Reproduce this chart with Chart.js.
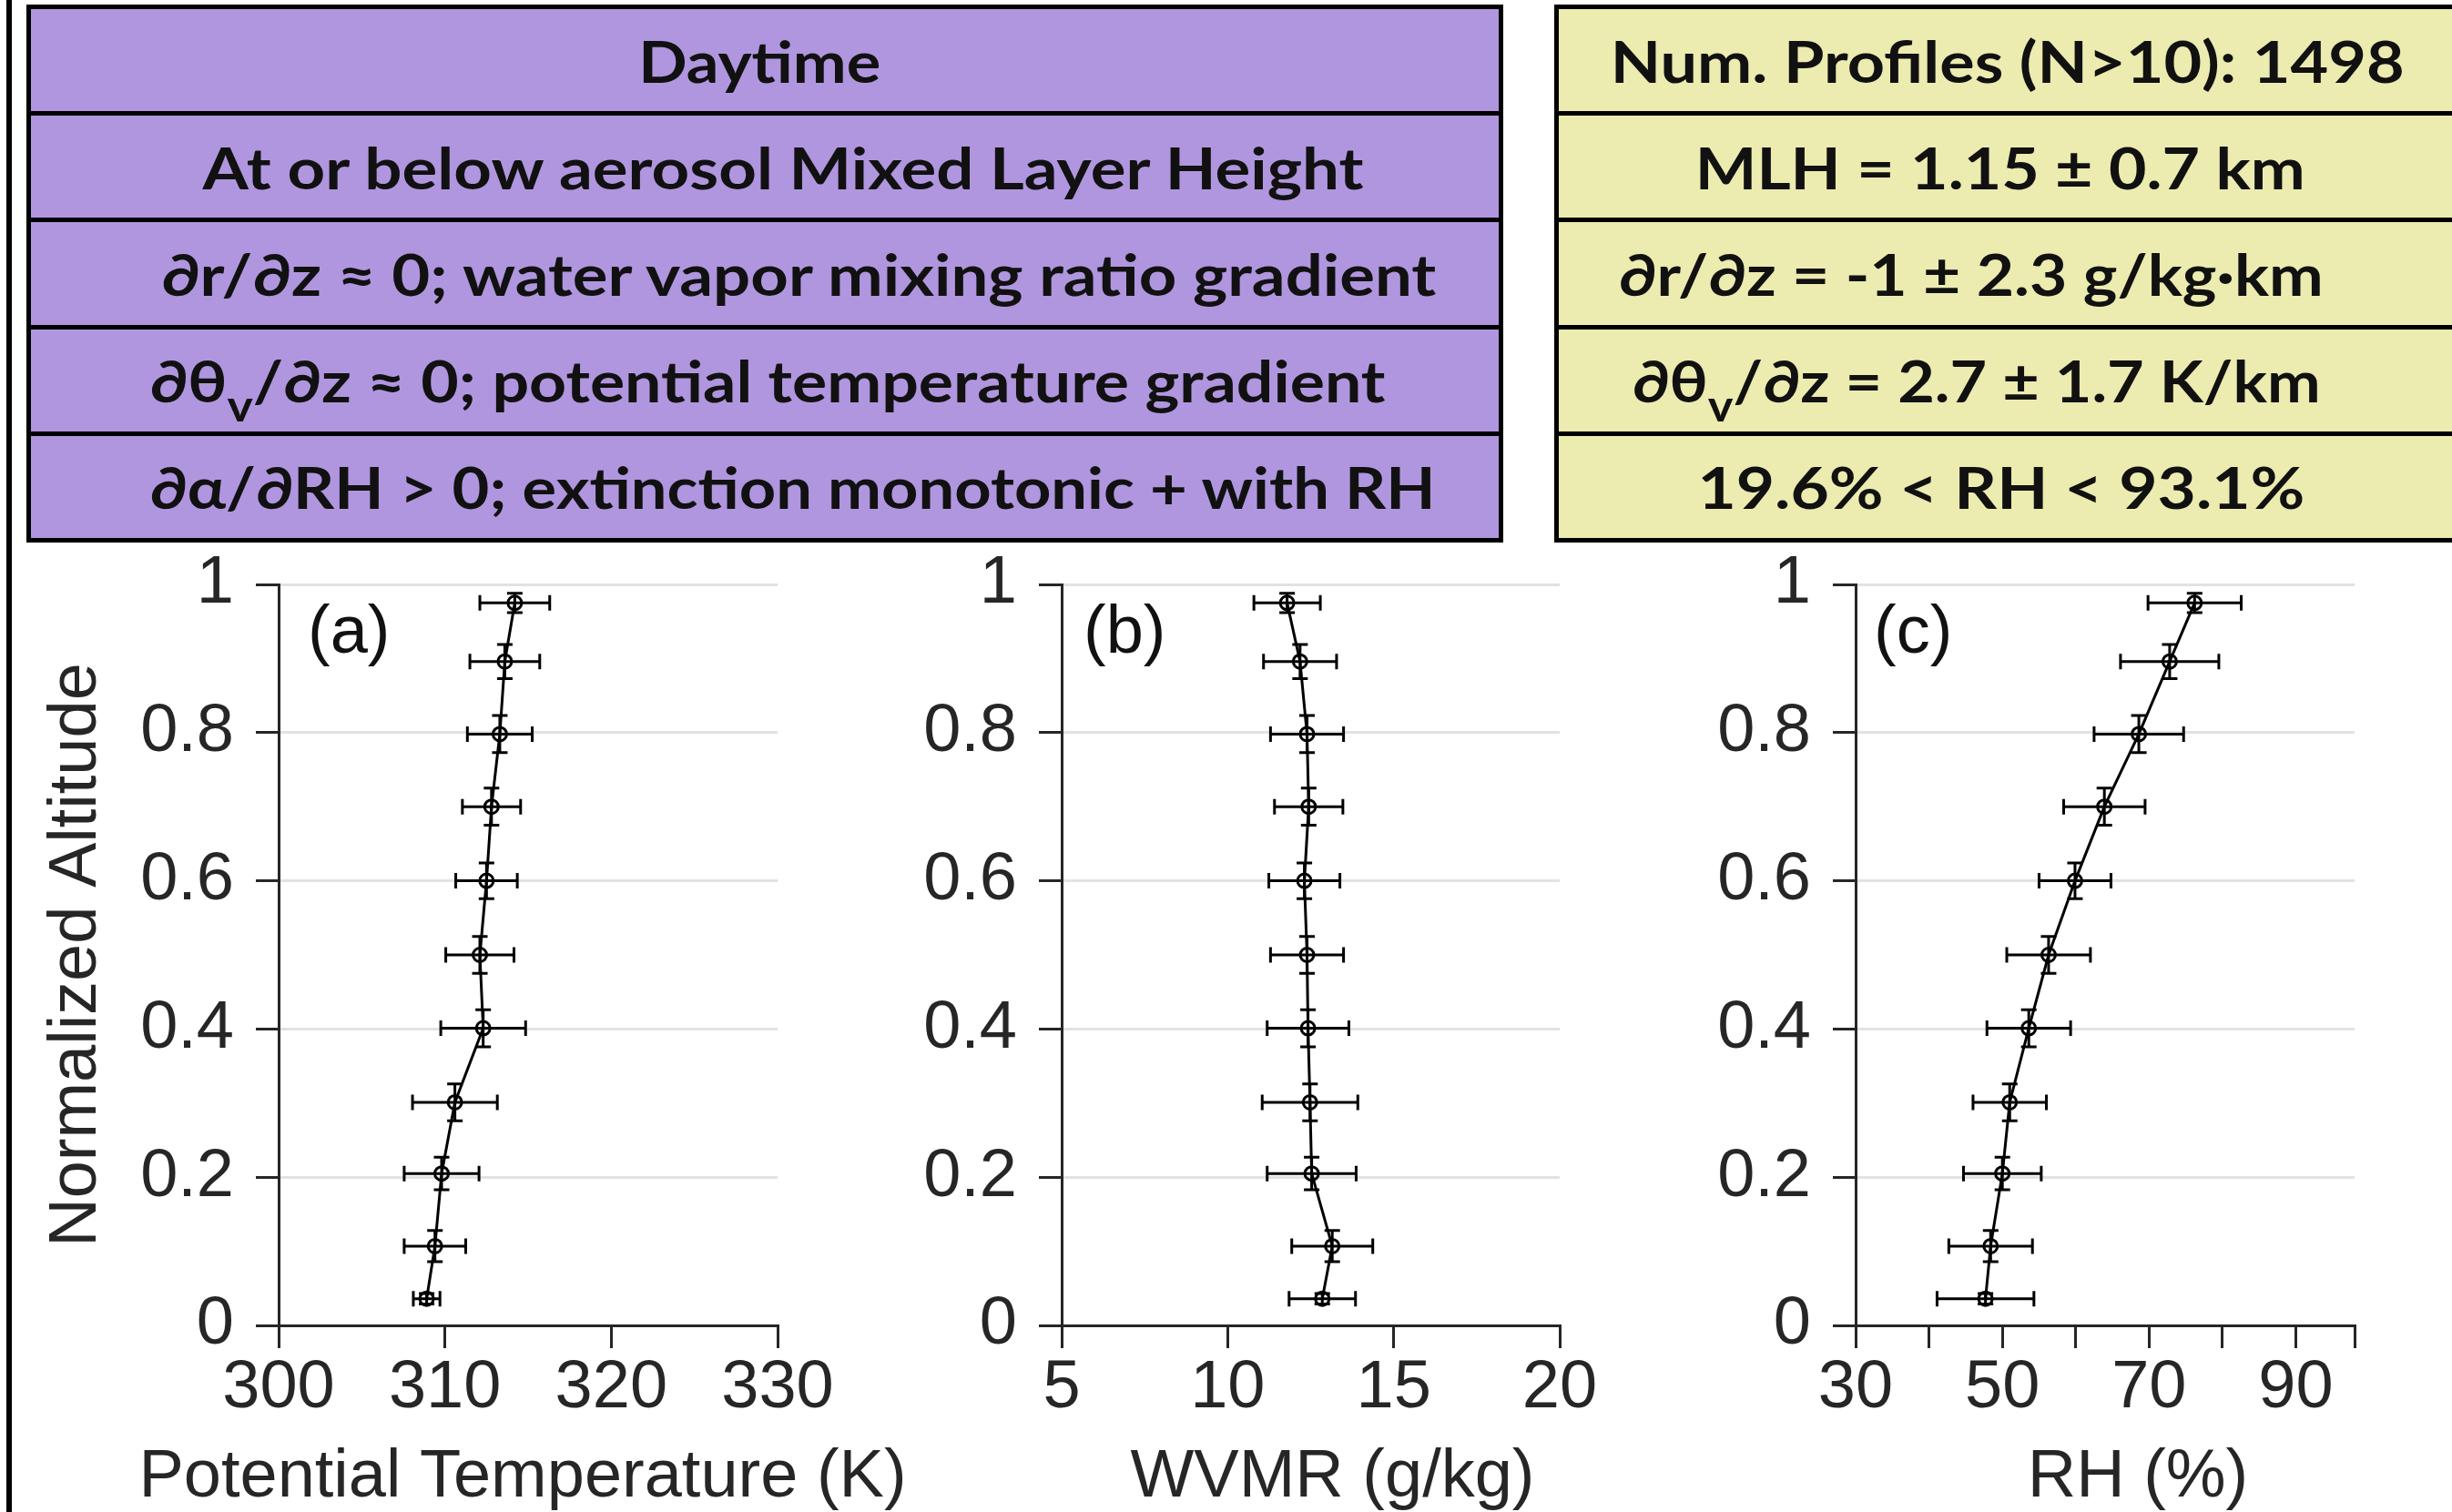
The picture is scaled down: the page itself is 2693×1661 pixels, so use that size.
<!DOCTYPE html>
<html>
<head>
<meta charset="utf-8">
<script src="https://cdn.jsdelivr.net/npm/chart.js@4.4.1/dist/chart.umd.min.js"></script>
<style>
  body { margin: 0; background: #fff; }
  #page { position: relative; width: 2693px; height: 1661px; overflow: hidden; background: #fff; }
  canvas { position: absolute; }
  .edge { position: absolute; left: 7px; top: 0; width: 6px; height: 1661px; background: #000; }
  .tbl { position: absolute; top: 5px; height: 591px; background: #000; box-sizing: border-box;
         padding: 5px; display: flex; flex-direction: column; gap: 5px; }
  .row { flex: 1; }
  .txt { position: absolute; white-space: nowrap; font-family: Lato, "Noto Sans", sans-serif;
         font-weight: 700; font-size: 63px; line-height: 1; color: #111; transform-origin: 50% 50%; }
  .txt sub { font-size: 0.75em; vertical-align: -0.45em; line-height: 0; }
</style>
</head>
<body>
<div id="page">
  <canvas id="chartA"></canvas>
  <canvas id="chartB"></canvas>
  <canvas id="chartC"></canvas>
  <div class="edge"></div>
  <div class="tbl" id="purple" style="left:29px;width:1622px;"></div>
  <div class="tbl" id="yellow" style="left:1707px;width:1100px;padding-right:0;"></div>
</div>
<script>
// table texts
const conditionRows = [
  "Daytime",
  "At or below aerosol Mixed Layer Height",
  "∂r/∂z ≈ 0; water vapor mixing ratio gradient",
  "∂θ<sub>v</sub>/∂z ≈ 0; potential temperature gradient",
  "∂α/∂RH &gt; 0; extinction monotonic + with RH"
];
const statsRows = [
  "Num. Profiles (N&gt;10): 1498",
  "MLH = 1.15 ± 0.7 km",
  "∂r/∂z = -1 ± 2.3 g/kg·km",
  "∂θ<sub>v</sub>/∂z = 2.7 ± 1.7 K/km",
  "19.6% &lt; RH &lt; 93.1%"
];

// profiles (normalized altitude bins)
const altitude = [0.975, 0.896, 0.798, 0.700, 0.600, 0.500, 0.401, 0.301, 0.205, 0.107, 0.036];
const altitudeErr = [0.013, 0.023, 0.025, 0.025, 0.024, 0.025, 0.025, 0.025, 0.022, 0.021, 0.007];

const theta = [314.2, 313.6, 313.3, 312.8, 312.5, 312.1, 312.3, 310.6, 309.8, 309.4, 308.9];
const thetaErr = [2.1, 2.1, 1.95, 1.75, 1.85, 2.05, 2.55, 2.55, 2.25, 1.85, 0.8];

const wvmr = [11.79, 12.18, 12.39, 12.44, 12.31, 12.39, 12.42, 12.48, 12.53, 13.15, 12.85];
const wvmrErr = [1.0, 1.1, 1.1, 1.03, 1.07, 1.1, 1.23, 1.44, 1.34, 1.22, 1.0];

const rh = [76.2, 72.8, 68.6, 63.9, 59.9, 56.3, 53.6, 51.0, 50.0, 48.4, 47.7];
const rhErr = [6.35, 6.7, 6.1, 5.55, 4.9, 5.7, 5.7, 5.0, 5.3, 5.7, 6.6];

// tick labels
const altTicks = [0, 0.2, 0.4, 0.6, 0.8, 1];
const thetaTicks = [300, 310, 320, 330];
const wvmrTicks = [5, 10, 15, 20];
const rhTicks = [30, 40, 50, 60, 70, 80, 90, 98];
const rhTickLabels = [30, 50, 70, 90];

// ---------- tables ----------
function buildTable(id, rows, color, centers, widths) {
  const tbl = document.getElementById(id);
  const page = document.getElementById("page");
  const items = [];
  rows.forEach((html, i) => {
    const r = document.createElement("div");
    r.className = "row";
    r.style.background = color;
    tbl.appendChild(r);
    const t = document.createElement("span");
    t.className = "txt";
    t.innerHTML = html;
    page.appendChild(t);
    items.push({ t, cx: centers[i], w: widths[i], cy: 10 + 117.2 * i + 56.1 });
  });
  return items;
}

const purpleItems = buildTable("purple", conditionRows, "#b096df",
  [834, 860, 877, 843, 871], [266, 1275, 1400, 1357, 1412]);
const yellowItems = buildTable("yellow", statsRows, "#ecebb0",
  [2205, 2197, 2165, 2171, 2198], [872, 670, 774, 756, 667]);

function fitTexts() {
  purpleItems.concat(yellowItems).forEach((it) => {
    it.t.style.transform = "none";
    const w = it.t.getBoundingClientRect().width;
    const h = it.t.getBoundingClientRect().height;
    const s = it.w / w;
    it.t.style.left = (it.cx - w / 2) + "px";
    it.t.style.top = (it.cy - h / 2) + "px";
    it.t.style.transform = "scaleX(" + s + ")";
  });
}

// ---------- charts ----------
const axisFont = { family: "'Liberation Sans', Arial, sans-serif", size: 74 };
const inkColor = "#262626";

const errorBars = {
  id: "errorBars",
  afterDatasetsDraw(chart) {
    const { ctx } = chart;
    const x = chart.scales.x, y = chart.scales.y;
    const cap = 8.5;
    ctx.save();
    ctx.strokeStyle = "#000";
    ctx.lineWidth = 3;
    chart.data.datasets[0].data.forEach((p) => {
      const px = x.getPixelForValue(p.x), py = y.getPixelForValue(p.y);
      const x0 = x.getPixelForValue(p.x - p.xErr), x1 = x.getPixelForValue(p.x + p.xErr);
      const y0 = y.getPixelForValue(p.y - p.yErr), y1 = y.getPixelForValue(p.y + p.yErr);
      ctx.beginPath();
      ctx.moveTo(x0, py); ctx.lineTo(x1, py);
      ctx.moveTo(x0, py - cap); ctx.lineTo(x0, py + cap);
      ctx.moveTo(x1, py - cap); ctx.lineTo(x1, py + cap);
      ctx.moveTo(px, y0); ctx.lineTo(px, y1);
      ctx.moveTo(px - cap, y0); ctx.lineTo(px + cap, y0);
      ctx.moveTo(px - cap, y1); ctx.lineTo(px + cap, y1);
      ctx.stroke();
    });
    ctx.restore();
  }
};

// panel letter and x axis title (title drawn here so it is not squeezed to the axis width)
const panelText = {
  id: "panelText",
  afterDraw(chart, args, opts) {
    const { ctx, chartArea } = chart;
    ctx.save();
    ctx.font = "74px 'Liberation Sans', Arial, sans-serif";
    ctx.textBaseline = "middle";
    ctx.fillStyle = "#111";
    ctx.textAlign = "left";
    ctx.fillText(opts.label, chartArea.left + opts.labelDx, chartArea.top + 55);
    ctx.fillStyle = inkColor;
    ctx.textAlign = "center";
    ctx.textBaseline = "alphabetic";
    ctx.fillText(opts.xTitle, (chartArea.left + chartArea.right) / 2 + opts.titleDx, chartArea.bottom + 188);
    ctx.restore();
  }
};

function makePanel(canvasId, box, values, errs, xTicks, xLabels, xTitle, label, labelDx, titleDx, showYTitle) {
  const canvas = document.getElementById(canvasId);
  canvas.width = box.w;
  canvas.height = box.h;
  canvas.style.left = box.left + "px";
  canvas.style.top = box.top + "px";

  const points = values.map((v, i) => ({ x: v, y: altitude[i], xErr: errs[i], yErr: altitudeErr[i] }));

  new Chart(canvas, {
    type: "scatter",
    data: {
      datasets: [{
        data: points,
        showLine: true,
        borderColor: "#000",
        borderWidth: 3,
        pointRadius: 7.5,
        pointBorderWidth: 3,
        pointBorderColor: "#000",
        pointBackgroundColor: "rgba(0,0,0,0)",
        tension: 0
      }]
    },
    options: {
      responsive: false,
      animation: false,
      devicePixelRatio: 1,
      layout: { padding: { top: 82, right: box.padRight, bottom: 0, left: 0 } },
      plugins: {
        legend: { display: false },
        tooltip: { enabled: false },
        panelText: { label: label, labelDx: labelDx, xTitle: xTitle, titleDx: titleDx }
      },
      scales: {
        x: {
          type: "linear",
          min: xTicks[0],
          max: xTicks[xTicks.length - 1],
          afterBuildTicks: (s) => { s.ticks = xTicks.map((v) => ({ value: v })); },
          afterFit: (s) => { s.height = 205; },
          ticks: {
            font: axisFont,
            color: inkColor,
            padding: 0,
            maxRotation: 0,
            autoSkip: false,
            callback: (v) => (xLabels.includes(v) ? String(v) : "")
          },
          grid: { drawOnChartArea: false, drawTicks: true, tickLength: 25, color: inkColor, lineWidth: 3 },
          border: { color: inkColor, width: 3 },
          title: { display: false, text: xTitle }
        },
        y: {
          type: "linear",
          min: 0,
          max: 1,
          afterBuildTicks: (s) => { s.ticks = altTicks.map((v) => ({ value: v })); },
          afterFit: (s) => { s.width = 306; },
          ticks: {
            font: axisFont,
            color: inkColor,
            padding: 24,
            autoSkip: false,
            callback: (v) => (v === 0 || v === 1 ? String(v) : v.toFixed(1))
          },
          grid: {
            drawTicks: true,
            tickLength: 25,
            lineWidth: 3,
            color: (c) => (c.tick && c.tick.value === 0 ? "rgba(0,0,0,0)" : "#e2e2e2"),
            tickColor: inkColor,
            tickWidth: 3
          },
          border: { color: inkColor, width: 3 },
          title: { display: showYTitle, text: "Normalized Altitude", font: axisFont, color: inkColor, padding: { top: 40, bottom: 0 } }
        }
      }
    },
    plugins: [errorBars, panelText]
  });
}

makePanel("chartA", { left: 0, top: 560, w: 1040, h: 1101, padRight: 186 },
  theta, thetaErr, thetaTicks, thetaTicks, "Potential Temperature (K)", "(a)", 32, -6, true);
makePanel("chartB", { left: 860, top: 560, w: 960, h: 1101, padRight: 107 },
  wvmr, wvmrErr, wvmrTicks, wvmrTicks, "WVMR (g/kg)", "(b)", 24, 24, false);
makePanel("chartC", { left: 1732, top: 560, w: 961, h: 1101, padRight: 107 },
  rh, rhErr, rhTicks, rhTickLabels, "RH (%)", "(c)", 20, 36, false);

fitTexts();
if (document.fonts && document.fonts.ready) document.fonts.ready.then(fitTexts);
</script>
</body>
</html>
